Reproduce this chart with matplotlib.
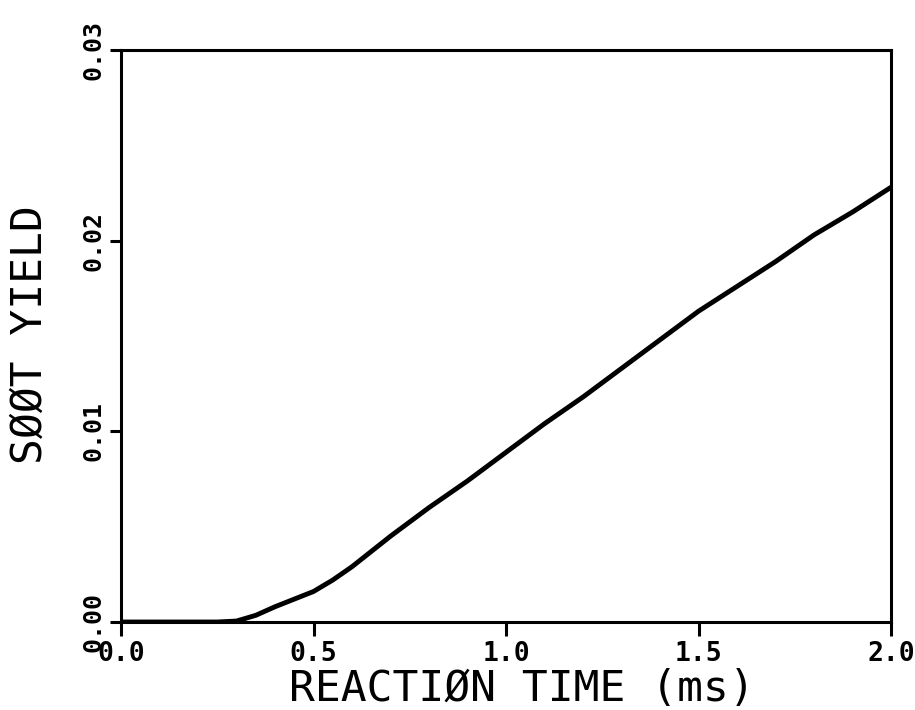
import matplotlib
matplotlib.use("Agg")
import matplotlib.pyplot as plt

# Data
reaction_time = [0.0, 0.25, 0.3, 0.35, 0.4, 0.45, 0.5, 0.55, 0.6, 0.65, 0.7,
                 0.8, 0.9, 1.0, 1.1, 1.2, 1.3, 1.4, 1.5, 1.6, 1.7, 1.8, 1.9, 2.0]
soot_yield = [0.0, 0.0, 0.00005, 0.00035, 0.0008, 0.0012, 0.0016, 0.0022,
              0.0029, 0.0037, 0.0045, 0.0060, 0.0074, 0.0089, 0.0104, 0.0118,
              0.0133, 0.0148, 0.0163, 0.0176, 0.0189, 0.0203, 0.0215, 0.0228]
x_ticks = [0.0, 0.5, 1.0, 1.5, 2.0]
x_tick_labels = ["0.0", "0.5", "1.0", "1.5", "2.0"]
y_ticks = [0.00, 0.01, 0.02, 0.03]
y_tick_labels = ["0.00", "0.01", "0.02", "0.03"]
x_label = "REACTIØN TIME (ms)"
y_label = "SØØT YIELD"

plt.rcParams['font.family'] = ['DejaVu Sans Mono', 'DejaVu Sans']

fig = plt.figure(figsize=(9.15, 7.10), dpi=100)
ax = fig.add_axes([121/915, 88/710, 770/915, 572/710])

ax.plot(reaction_time, soot_yield, color='black', linewidth=3.5,
        solid_capstyle='round', solid_joinstyle='round')

ax.set_xlim(0, 2.0)
ax.set_ylim(0, 0.03)
ax.set_xticks(x_ticks)
ax.set_xticklabels(x_tick_labels, fontsize=19, fontweight='bold')
ax.set_yticks(y_ticks)
ax.set_yticklabels(y_tick_labels, fontsize=18, fontweight='bold',
                   rotation=90, va='center')

for s in ax.spines.values():
    s.set_linewidth(2.2)
    s.set_color('black')

ax.tick_params(axis='x', direction='out', length=10, width=2.2, pad=4)
ax.tick_params(axis='y', direction='out', length=8, width=2.2, pad=3)

ax.set_xlabel(x_label, fontsize=31, va='center')
ax.xaxis.set_label_coords(0.521, -0.118)
ax.set_ylabel(y_label, fontsize=31, va='center')
ax.yaxis.set_label_coords(-0.118, 0.502)

fig.savefig("out.png", dpi=100, facecolor='white')
